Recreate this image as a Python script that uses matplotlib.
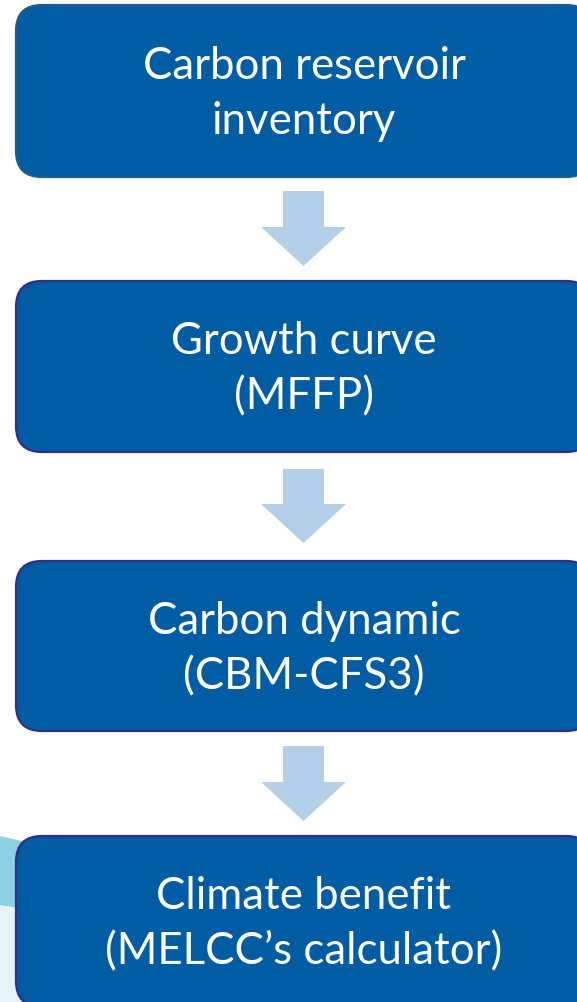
import matplotlib.pyplot as plt
from matplotlib.patches import FancyBboxPatch, FancyArrow, Polygon

# Flow steps, top to bottom
labels = [
    "Carbon reservoir\ninventory",
    "Growth curve\n(MFFP)",
    "Carbon dynamic\n(CBM-CFS3)",
    "Climate benefit\n(MELCC\u2019s calculator)",
]
box_top = [5, 281, 561, 836]
box_bottom = [177, 452, 731, 1007]
edge_colors = ["#1F5A8A", "#2E2F8A", "#2E2F8A", "#2E2F8A"]

# Arrows between the steps (start y, tip y)
arrow_start = [191, 469, 746]
arrow_tip = [266, 543, 821]

fig = plt.figure(figsize=(5.77, 10.02), dpi=100)
ax = fig.add_axes([0, 0, 1, 1])
ax.set_xlim(0, 577)
ax.set_ylim(1002, 0)
ax.axis("off")

# light decoration at bottom left
ax.add_patch(Polygon([(0, 905), (60, 915), (60, 1002), (0, 1002)],
                     closed=True, color="#E6F3FA", lw=0, zorder=0))
ax.add_patch(Polygon([(0, 836), (60, 850), (60, 915), (0, 905)],
                     closed=True, color="#8DD0E6", lw=0, zorder=0))

box_left = 16
box_right = 592
text_x = 304

for lab, top, bot, ec in zip(labels, box_top, box_bottom, edge_colors):
    box = FancyBboxPatch((box_left, top), box_right - box_left, bot - top,
                         boxstyle="round,pad=0,rounding_size=26",
                         facecolor="#005DA4", edgecolor=ec, linewidth=1.6,
                         zorder=2)
    ax.add_patch(box)
    cy = (top + bot) / 2 + 3
    ax.text(text_x, cy, lab, color="white", ha="center", va="center",
            fontsize=31.5, family="Lato", linespacing=1.42, zorder=3)

for y0, y1 in zip(arrow_start, arrow_tip):
    ax.add_patch(FancyArrow(303.5, y0, 0, y1 - y0, width=41, head_width=85,
                            head_length=39, length_includes_head=True,
                            color="#B3D0E8", lw=0, zorder=1))

fig.savefig("out.png", dpi=100)
